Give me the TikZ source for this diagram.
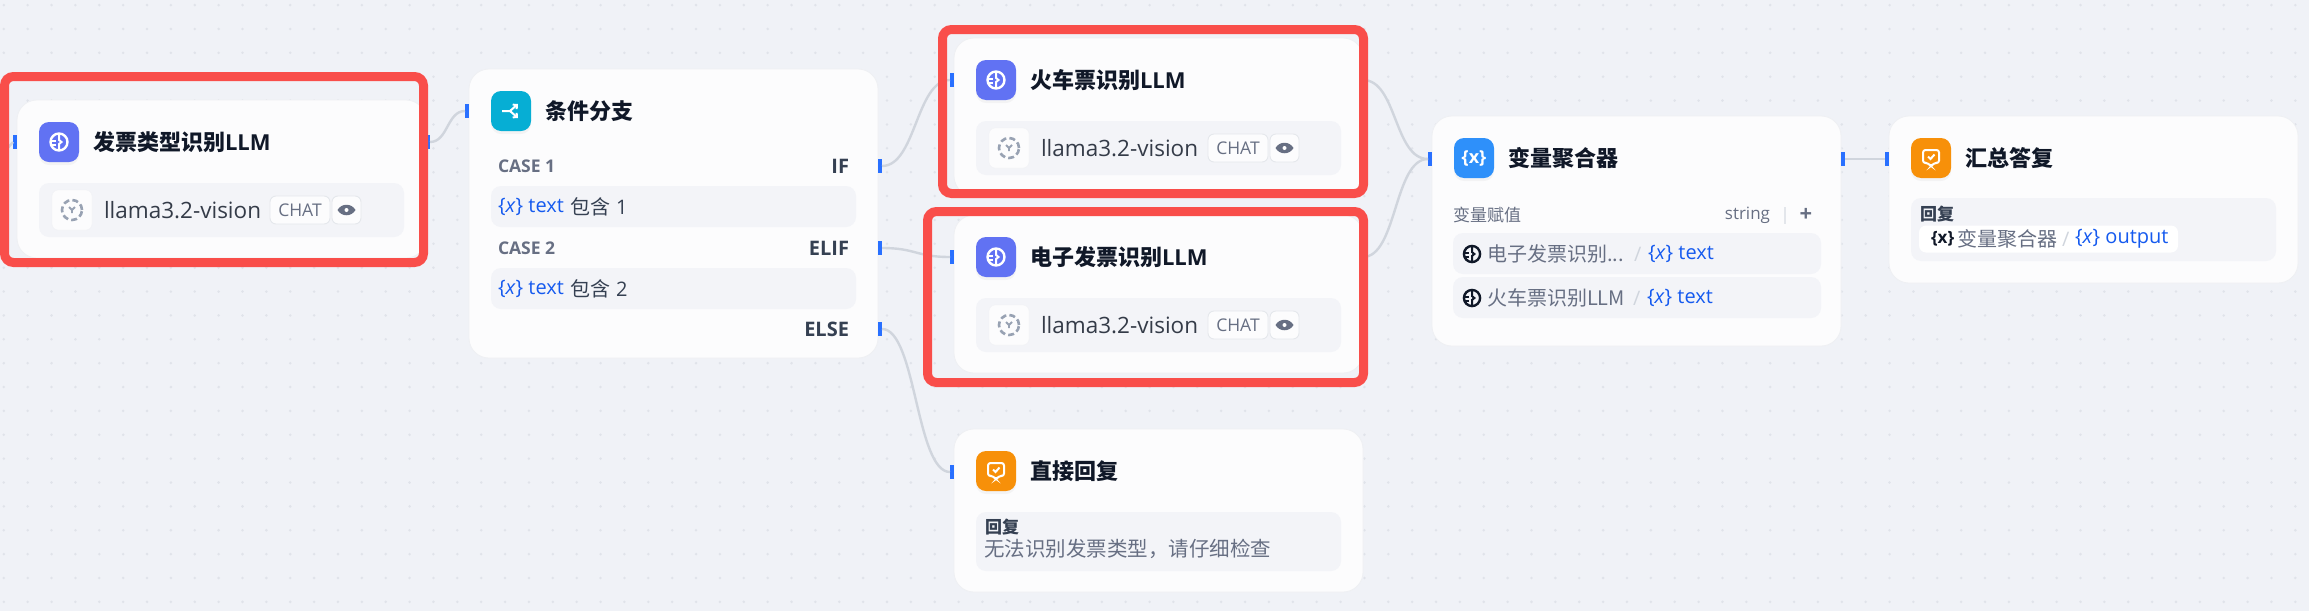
\documentclass[tikz,border=0pt]{standalone}
\usepackage{fontspec}
\setmainfont{Open Sans}
\newfontfamily\cjk{Noto Sans CJK SC}
\usepackage{xcolor}
\usetikzlibrary{positioning,calc,arrows.meta,shadows}

\definecolor{canvas}{HTML}{F0F2F7}
\definecolor{gridDot}{HTML}{E0E3EA}
\definecolor{cardFill}{HTML}{FCFCFD}
\definecolor{rowFill}{HTML}{F3F4F8}
\definecolor{edgeGray}{HTML}{D0D5DD}
\definecolor{portBlue}{HTML}{2970FF}
\definecolor{markRed}{HTML}{F94E4A}
\definecolor{inkDark}{HTML}{101828}
\definecolor{inkMid}{HTML}{354052}
\definecolor{inkGray}{HTML}{676F83}
\definecolor{inkFaint}{HTML}{98A2B3}
\definecolor{linkBlue}{HTML}{155AEF}
\definecolor{llmIndigo}{HTML}{6172F3}
\definecolor{ifCyan}{HTML}{06AED4}
\definecolor{varBlue}{HTML}{2E90FA}
\definecolor{replyOrange}{HTML}{F79009}

\begin{document}
\begin{tikzpicture}[
  x=1pt, y=-1pt,
  inner sep=0pt, outer sep=0pt,
  card/.style={draw=edgeGray!35, line width=0.8pt, fill=cardFill, rounded corners=20pt,
               minimum width=409pt, minimum height=#1},
  icon/.style={fill=#1, rounded corners=10pt, minimum size=40pt,
               drop shadow={opacity=0.07, shadow xshift=0pt, shadow yshift=-3pt}},
  title/.style={font=\fontsize{22}{25}\selectfont\bfseries, text=inkDark, anchor=west},
  row/.style={fill=rowFill, rounded corners=10pt, minimum width=#1, anchor=north west},
  port/.style={fill=portBlue, minimum width=4pt, minimum height=14pt},
  link/.style={draw=edgeGray, line width=2.4pt},
  redbox/.style={draw=markRed, line width=9pt, rounded corners=9pt},
  modelname/.style={font=\fontsize{22.5}{26}\selectfont, text=inkDark!85, anchor=west},
  tag/.style={draw=edgeGray!55, line width=0.9pt, fill=cardFill, rounded corners=6pt,
              minimum height=28pt, anchor=west, font=\fontsize{17.5}{20}\selectfont, text=inkGray},
  small/.style={font=\fontsize{17}{20}\selectfont, text=#1, anchor=west},
  body/.style={font=\fontsize{20}{24}\selectfont, text=#1, anchor=west},
  branch/.style={font=\fontsize{20}{24}\selectfont\bfseries, text=inkMid, anchor=east},
  casehead/.style={font=\fontsize{17.5}{20}\selectfont\bfseries, text=inkGray, anchor=west},
  brainmark/.pic={
    \draw[pic actions, line width=2.4pt, fill=none] (0,0) circle (8.5pt);
    \draw[pic actions, line width=2pt] (0,-8) -- (0,-2) -- (2.5,0) -- (0,2) -- (0,8);
    \draw[pic actions, line width=2pt] (-7,-1) -- (-3.5,-1) (-3.5,3) -- (-7,3);
  },
  modelmark/.pic={
    \draw[draw=inkFaint, line width=2.6pt, dash pattern=on 6pt off 3.2pt, fill=none] (0,0) circle (10pt);
    \draw[draw=inkFaint, line width=1.8pt] (-3,-3) -- (0,0) -- (3,-3) (0,0) -- (0,3);
  },
  replymark/.pic={
    \draw[white, line width=2pt, rounded corners=2.5pt, fill=none]
      (-8,-8) -- (8,-8) -- (8,5) -- (3,5) -- (0,8.5) -- (-3,5) -- (-8,5) -- cycle;
    \draw[white, line width=2pt] (-3,-1.5) -- (-0.5,1) -- (3.5,-3.5);
  },
]
\useasboundingbox (0,0) rectangle (2309,611);

%% ===== CANVAS =====
\fill[canvas] (0,0) rectangle (2309,611);
\foreach \col in {0,...,96}
  \foreach \rw in {0,...,25}
    \fill[gridDot] ({3.8+23.87*\col},{5.1+23.87*\rw}) circle (1.4pt);

%% ===== CARDS =====
\node[card=158pt, anchor=north west] (typeCard) at (17,100) {};
\node[card=289pt, anchor=north west] (ifCard) at (469,69) {};
\node[card=158pt, anchor=north west] (trainCard) at (954,38) {};
\node[card=158pt, anchor=north west] (elecCard) at (954,215) {};
\node[card=163pt, anchor=north west] (directCard) at (954,429) {};
\node[card=230pt, anchor=north west] (varCard) at (1432,116) {};
\node[card=167pt, anchor=north west] (sumCard) at (1889,116) {};

%% ===== PORTS =====
\coordinate (offLeft) at (0,157);
\node[port] (typeIn) at (15,142) {};
\node[port] (typeOut) at (428,142) {};
\node[port] (ifIn) at (467,111) {};
\node[port] (ifA) at (880,166) {};
\node[port] (ifB) at (880,248) {};
\node[port] (ifC) at (880,329) {};
\node[port] (trainIn) at (952,80) {};
\node[port] (elecIn) at (952,257) {};
\node[port] (directIn) at (952,472) {};
\node[port] (varIn) at (1430,159) {};
\node[port] (varOut) at (1843,159) {};
\node[port] (sumIn) at (1887,159) {};

%% ===== CONNECTORS =====
\draw[link] (offLeft) -- (typeIn.west);
\draw[link] (typeOut.east) .. controls +(18,0) and +(-18,0) .. (ifIn.west);
\draw[link] (ifA.east) .. controls +(34,0) and +(-34,0) .. (trainIn.west);
\draw[link] (ifB.east) .. controls +(34,0) and +(-34,0) .. (elecIn.west);
\draw[link] (ifC.east) .. controls +(34,0) and +(-34,0) .. (directIn.west);
\draw[link] (trainCard.east |- trainIn) .. controls +(34,0) and +(-34,0) .. (varIn.west);
\draw[link] (elecCard.east |- elecIn) .. controls +(34,0) and +(-34,0) .. (varIn.west);
\draw[link] (varOut.east) -- (sumIn.west);

%% ===== LEFT: TYPE LLM =====
\node[icon=llmIndigo, below right=22pt and 22pt of typeCard.north west] (typeIcon) {};
\pic[draw=white] at (typeIcon) {brainmark};
\node[title, right=14pt of typeIcon] (typeTitle) {{\cjk 发票类型识别}LLM};
\node[row=365pt, minimum height=54pt, below right=21pt and 0pt of typeIcon.south west] (typeRow) {};
\node[draw=edgeGray!30, fill=cardFill, rounded corners=6pt, minimum size=40pt,
      right=13pt of typeRow.west] (typeBox) {};
\pic at (typeBox) {modelmark};
\node[modelname, right=12pt of typeBox] (typeName) {llama3.2-vision};
\node[tag, minimum width=60pt] (typeChat) at (270,210) {CHAT};
\node[tag, minimum width=29pt, right=2pt of typeChat] (typeEye) {};
\fill[inkGray] ($(typeEye)+(-9,0)$) .. controls +(4,-7) and +(-4,-7) .. ($(typeEye)+(9,0)$)
  .. controls +(-4,7) and +(4,7) .. cycle;
\fill[white] (typeEye) circle (2pt);

%% ===== MIDDLE: CONDITION =====
\node[icon=ifCyan, below right=22pt and 22pt of ifCard.north west] (ifIcon) {};
\draw[white, line width=2pt, -{Straight Barb[length=3pt,width=6pt]}] ($(ifIcon)+(-9,0)$) -- ($(ifIcon)+(-1,0)$)
  -- ($(ifIcon)+(7,-7)$);
\draw[white, line width=2pt, -{Straight Barb[length=3pt,width=6pt]}] ($(ifIcon)+(-1,0)$) -- ($(ifIcon)+(7,7)$);
\node[title, right=14pt of ifIcon] (ifTitle) {{\cjk 条件分支}};
\node[casehead] (caseOne) at (498,166) {CASE 1};
\node[branch] (ifLabel) at (849,166) {IF};
\node[row=365pt, minimum height=41pt] (ifRowA) at (491,186) {};
\node[body=linkBlue, right=7pt of ifRowA.west] (ifVarA) {\{\textit{x}\} text};
\node[body=inkMid, right=7pt of ifVarA] (ifCondA) {{\cjk 包含} 1};
\node[casehead] (caseTwo) at (498,248) {CASE 2};
\node[branch] (elifLabel) at (849,248) {ELIF};
\node[row=365pt, minimum height=41pt] (ifRowB) at (491,268) {};
\node[body=linkBlue, right=7pt of ifRowB.west] (ifVarB) {\{\textit{x}\} text};
\node[body=inkMid, right=7pt of ifVarB] (ifCondB) {{\cjk 包含} 2};
\node[branch] (elseLabel) at (849,329) {ELSE};

%% ===== MIDDLE: TRAIN LLM =====
\node[icon=llmIndigo, below right=22pt and 22pt of trainCard.north west] (trainIcon) {};
\pic[draw=white] at (trainIcon) {brainmark};
\node[title, right=14pt of trainIcon] (trainTitle) {{\cjk 火车票识别}LLM};
\node[row=365pt, minimum height=54pt, below right=21pt and 0pt of trainIcon.south west] (trainRow) {};
\node[draw=edgeGray!30, fill=cardFill, rounded corners=6pt, minimum size=40pt,
      right=13pt of trainRow.west] (trainBox) {};
\pic at (trainBox) {modelmark};
\node[modelname, right=12pt of trainBox] (trainName) {llama3.2-vision};
\node[tag, minimum width=60pt] (trainChat) at (1208,148) {CHAT};
\node[tag, minimum width=29pt, right=2pt of trainChat] (trainEye) {};
\fill[inkGray] ($(trainEye)+(-9,0)$) .. controls +(4,-7) and +(-4,-7) .. ($(trainEye)+(9,0)$)
  .. controls +(-4,7) and +(4,7) .. cycle;
\fill[white] (trainEye) circle (2pt);

%% ===== MIDDLE: E-INVOICE LLM =====
\node[icon=llmIndigo, below right=22pt and 22pt of elecCard.north west] (elecIcon) {};
\pic[draw=white] at (elecIcon) {brainmark};
\node[title, right=14pt of elecIcon] (elecTitle) {{\cjk 电子发票识别}LLM};
\node[row=365pt, minimum height=54pt, below right=21pt and 0pt of elecIcon.south west] (elecRow) {};
\node[draw=edgeGray!30, fill=cardFill, rounded corners=6pt, minimum size=40pt,
      right=13pt of elecRow.west] (elecBox) {};
\pic at (elecBox) {modelmark};
\node[modelname, right=12pt of elecBox] (elecName) {llama3.2-vision};
\node[tag, minimum width=60pt] (elecChat) at (1208,325) {CHAT};
\node[tag, minimum width=29pt, right=2pt of elecChat] (elecEye) {};
\fill[inkGray] ($(elecEye)+(-9,0)$) .. controls +(4,-7) and +(-4,-7) .. ($(elecEye)+(9,0)$)
  .. controls +(-4,7) and +(4,7) .. cycle;
\fill[white] (elecEye) circle (2pt);

%% ===== MIDDLE: DIRECT REPLY =====
\node[icon=replyOrange, below right=22pt and 22pt of directCard.north west] (directIcon) {};
\pic at (directIcon) {replymark};
\node[title, right=14pt of directIcon] (directTitle) {{\cjk 直接回复}};
\node[row=365pt, minimum height=59pt, below right=21pt and 0pt of directIcon.south west] (directRow) {};
\node[small=inkMid, font=\fontsize{17}{20}\selectfont\bfseries\cjk] (directHead) at (985,527) {回复};
\node[small=inkGray, font=\fontsize{20.5}{24}\selectfont\cjk] (directText) at (984,549) {无法识别发票类型^^^^ff0c请仔细检查};

%% ===== RIGHT: AGGREGATOR =====
\node[icon=varBlue, below right=22pt and 22pt of varCard.north west] (varIcon) {};
\node[text=white, font=\fontsize{18}{22}\selectfont\bfseries] (varGlyph) at (varIcon) {\{x\}};
\node[title, right=14pt of varIcon] (varTitle) {{\cjk 变量聚合器}};
\node[small=inkGray, font=\fontsize{17}{20}\selectfont\cjk] (varHead) at (1453,215) {变量赋值};
\node[small=inkGray, anchor=east] (varType) at (1770,215) {string};
\draw[edgeGray!60, line width=1.5pt] (1785,207) -- (1785,224);
\node[text=inkGray, font=\fontsize{22}{22}\selectfont\bfseries] (varPlus) at (1806,215) {+};
\node[row=368pt, minimum height=41pt] (varRowA) at (1453,233) {};
\pic[draw=inkDark, scale=0.95] at (1472,254) {brainmark};
\node[body=inkGray, font=\fontsize{20}{24}\selectfont\cjk] (varNameA) at (1487,254) {电子发票识别...};
\node[body=edgeGray] (varSlashA) at (1634,254) {/};
\node[body=linkBlue] (varTextA) at (1648,254) {\{\textit{x}\} text};
\node[row=368pt, minimum height=41pt] (varRowB) at (1453,277) {};
\pic[draw=inkDark, scale=0.95] at (1472,298) {brainmark};
\node[body=inkGray, font=\fontsize{20}{24}\selectfont\cjk] (varNameB) at (1487,298) {火车票识别LLM};
\node[body=edgeGray] (varSlashB) at (1633,298) {/};
\node[body=linkBlue] (varTextB) at (1647,298) {\{\textit{x}\} text};

%% ===== RIGHT: SUMMARY =====
\node[icon=replyOrange, below right=22pt and 22pt of sumCard.north west] (sumIcon) {};
\pic at (sumIcon) {replymark};
\node[title, right=14pt of sumIcon] (sumTitle) {{\cjk 汇总答复}};
\node[row=365pt, minimum height=63pt, below right=20pt and 0pt of sumIcon.south west] (sumRow) {};
\node[small=inkMid, font=\fontsize{17}{20}\selectfont\bfseries\cjk] (sumHead) at (1920,214) {回复};
\node[fill=white, rounded corners=7pt, minimum width=259pt, minimum height=27pt, anchor=west] (sumPill) at (1919,239) {};
\node[body=inkDark, font=\fontsize{17}{20}\selectfont\bfseries] (sumGlyph) at (1931,239) {\{x\}};
\node[body=inkGray, font=\fontsize{20}{24}\selectfont\cjk] (sumName) at (1957,239) {变量聚合器};
\node[body=edgeGray] (sumSlash) at (2062,239) {/};
\node[body=linkBlue] (sumText) at (2075,239) {\{\textit{x}\} output};

%% ===== HIGHLIGHT FRAMES =====
\node[redbox, minimum width=419pt, minimum height=186pt, anchor=north west] (typeMark) at (4.5,76.5) {};
\node[redbox, minimum width=421pt, minimum height=164pt, anchor=north west] (trainMark) at (942.5,29.5) {};
\node[redbox, minimum width=436pt, minimum height=171pt, anchor=north west] (elecMark) at (927.5,211.5) {};
\end{tikzpicture}
\end{document}
